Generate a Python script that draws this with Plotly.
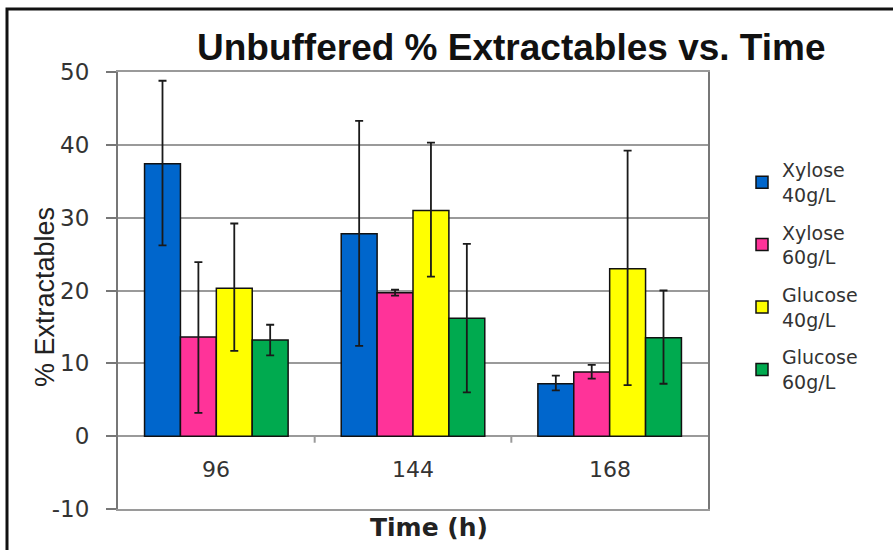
import plotly.graph_objects as go

times = ["96", "144", "168"]
series_names = ["Xylose<br>40g/L", "Xylose<br>60g/L", "Glucose<br>40g/L", "Glucose<br>60g/L"]
xylose40 = [37.4, 27.8, 7.2]
xylose40_err_plus = [11.4, 15.5, 1.1]
xylose40_err_minus = [11.2, 15.4, 0.9]
xylose60 = [13.6, 19.7, 8.8]
xylose60_err_plus = [10.3, 0.4, 1.0]
xylose60_err_minus = [10.4, 0.4, 0.9]
glucose40 = [20.3, 31.0, 23.0]
glucose40_err_plus = [8.9, 9.3, 16.2]
glucose40_err_minus = [8.6, 9.1, 16.0]
glucose60 = [13.2, 16.2, 13.5]
glucose60_err_plus = [2.1, 10.2, 6.5]
glucose60_err_minus = [2.1, 10.2, 6.3]
y_ticks = [-10, 0, 10, 20, 30, 40, 50]
y_tick_text = ["-10", "0", "10", "20", "30", "40", "50"]

colors = ["#0066CC", "#FF3399", "#FFFF00", "#00AA4F"]
values = [xylose40, xylose60, glucose40, glucose60]
err_p = [xylose40_err_plus, xylose60_err_plus, glucose40_err_plus, glucose60_err_plus]
err_m = [xylose40_err_minus, xylose60_err_minus, glucose40_err_minus, glucose60_err_minus]

fig = go.Figure()
for i in range(4):
    fig.add_trace(go.Bar(
        x=times, y=values[i], name=series_names[i],
        marker=dict(color=colors[i], line=dict(color="#111111", width=1.5)),
        error_y=dict(type="data", array=err_p[i], arrayminus=err_m[i],
                     color="#1a1a1a", thickness=1.8, width=4),
        legendgroup=str(i),
    ))

W, H = 893, 550
L, R, T, B = 118, 185, 72, 41
pw, ph = W - L - R, H - T - B

def px(xp):
    return (xp - L) / pw

def py(yp):
    return (H - B - yp) / ph

fig.update_layout(
    width=W, height=H,
    margin=dict(l=L, r=R, t=T, b=B),
    paper_bgcolor="white", plot_bgcolor="white",
    barmode="group", bargap=0.27, bargroupgap=0,
    showlegend=True,
    legend=dict(x=px(742), y=py(151), xanchor="left", yanchor="top",
                font=dict(family="DejaVu Sans", size=19, color="#333333"),
                tracegroupgap=10, bgcolor="rgba(0,0,0,0)"),
    font=dict(family="DejaVu Sans", color="#333333"),
)

fig.update_xaxes(type="category", range=[-0.5, 2.5], showticklabels=False, ticks="",
                 showline=True, linecolor="#9a9a9a", linewidth=2, mirror=True,
                 showgrid=False)
fig.update_yaxes(range=[-10, 50], tickvals=y_ticks, ticktext=y_tick_text,
                 ticks="outside", ticklen=10, ticklabelstandoff=12,
                 tickcolor="#777777", tickwidth=2,
                 tickfont=dict(family="DejaVu Sans", size=23, color="#333333"),
                 showline=True, linecolor="#777777", linewidth=2, mirror=True,
                 showgrid=True, gridcolor="#9a9a9a", gridwidth=2,
                 zeroline=True, zerolinecolor="#9a9a9a", zerolinewidth=2)

# category labels under the zero line
for idx, t in enumerate(times):
    fig.add_annotation(x=idx, y=-4.6, xref="x", yref="y", text=t, showarrow=False,
                       xanchor="center", yanchor="middle",
                       font=dict(family="DejaVu Sans", size=22, color="#333333"))

# small ticks between categories at zero line
for xb in [0.5, 1.5]:
    fig.add_shape(type="line", xref="x", yref="y", x0=xb, x1=xb, y0=0, y1=-0.9,
                  line=dict(color="#9a9a9a", width=2))

fig.add_annotation(x=px(511), y=py(47), xref="paper", yref="paper",
                   xanchor="center", yanchor="middle",
                   text="<b>Unbuffered % Extractables vs. Time</b>", showarrow=False,
                   font=dict(family="Liberation Sans", size=37, color="#111111"))
fig.add_annotation(x=px(429), y=py(527), xref="paper", yref="paper",
                   xanchor="center", yanchor="middle",
                   text="<b>Time (h)</b>", showarrow=False,
                   font=dict(family="DejaVu Sans", size=25, color="#222222"))
fig.add_annotation(x=px(45), y=py(297), xref="paper", yref="paper",
                   xanchor="center", yanchor="middle",
                   text="% Extractables", showarrow=False, textangle=-90,
                   font=dict(family="Liberation Sans", size=27, color="#222222"))

# outer chart frame
fig.add_shape(type="rect", xref="paper", yref="paper",
              x0=px(7), x1=px(905), y0=py(9), y1=py(570),
              line=dict(color="#111111", width=3), layer="above")

fig.write_html("out.html")
